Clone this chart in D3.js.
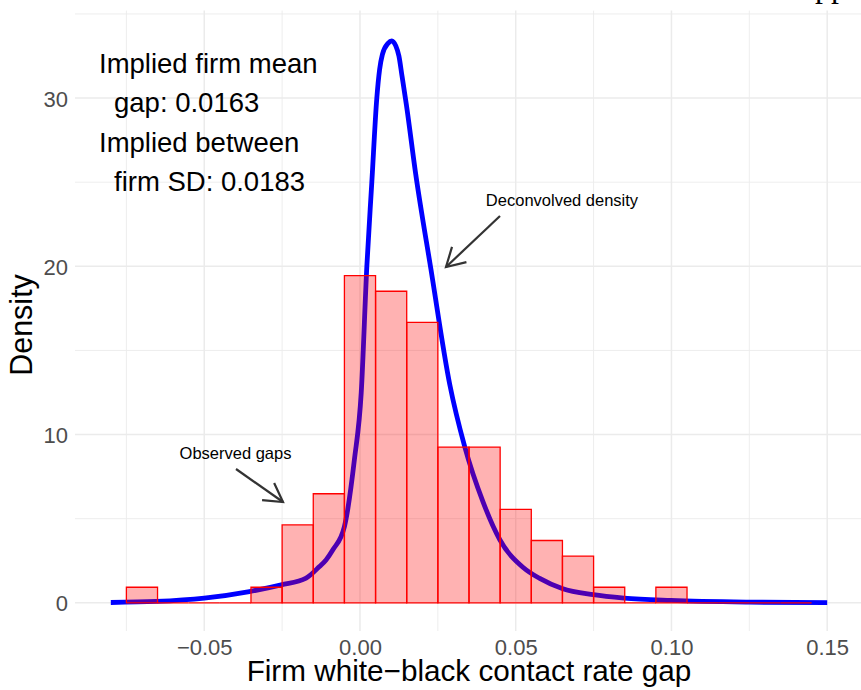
<!DOCTYPE html>
<html><head><meta charset="utf-8">
<script src="https://cdn.jsdelivr.net/npm/d3@7"></script>
<style>body{margin:0;background:#fff}svg{display:block}text{font-family:"Liberation Sans",Arial,Helvetica,sans-serif}</style>
</head><body><svg id="c" width="861" height="690"></svg>
<script>
// Histogram: bin starts (width 0.01) and firm counts
const binStarts = [-0.075,-0.065,-0.055,-0.045,-0.035,-0.025,-0.015,-0.005,0.005,0.015,0.025,0.035,0.045,0.055,0.065,0.075,0.085,0.095,0.105,0.115,0.125,0.135];
const binCounts = [1,0,0,0,1,5,7,21,20,18,10,10,6,4,3,1,0,1,0,0,0,0];
const binWidth = 0.01;
// Deconvolved density curve
const densX = [-0.08,-0.0655,-0.05,-0.0355,-0.0253,-0.0173,-0.013,-0.0109,-0.0087,-0.005,-0.0018,0.0004,0.0022,0.0038,0.0054,0.0063,0.0072,0.009,0.0102,0.0115,0.0125,0.0135,0.0149,0.0178,0.0228,0.0288,0.0336,0.0395,0.0449,0.0524,0.0577,0.0649,0.0749,0.0848,0.0998,0.125,0.15];
const densY = [0.02,0.08,0.28,0.67,1.07,1.47,2.16,2.55,3.15,4.53,8.5,12.5,20,25,30,31.7,32.6,33.25,33.4,33.1,32.5,31.3,29.6,25.6,19.8,13.0,9.3,6.0,3.75,2.1,1.45,0.85,0.48,0.28,0.14,0.04,0.01];
const xTicks = [-0.05,0,0.05,0.10,0.15];
const xMinor = [-0.075,-0.025,0.025,0.075,0.125];
const yTicks = [0,10,20,30];
const yMinor = [5,15,25,35];
const infoLines = ["Implied firm mean","gap: 0.0163","Implied between","firm SD: 0.0183"];

const svg = d3.select("#c");
const L=75,R=863,T=10.6,B=631;
const x = d3.scaleLinear().domain([-0.0915,0.1615]).range([L,R]);
const y = d3.scaleLinear().domain([-1.675,35.2]).range([B,T]);
const N = d3.sum(binCounts);

// top-right cropped text
svg.append("text").attr("x",815).attr("y",-3).style("font-family","'Liberation Serif',serif").attr("font-size",32).attr("fill","#000").text("pp");

const grid = svg.append("g");
xMinor.forEach(v=>grid.append("line").attr("x1",x(v)).attr("x2",x(v)).attr("y1",T).attr("y2",B).attr("stroke","#EBEBEB").attr("stroke-width",0.9));
yMinor.forEach(v=>grid.append("line").attr("x1",L).attr("x2",R).attr("y1",y(v)).attr("y2",y(v)).attr("stroke","#EBEBEB").attr("stroke-width",0.9));
xTicks.forEach(v=>grid.append("line").attr("x1",x(v)).attr("x2",x(v)).attr("y1",T).attr("y2",B).attr("stroke","#EBEBEB").attr("stroke-width",1.5));
yTicks.forEach(v=>grid.append("line").attr("x1",L).attr("x2",R).attr("y1",y(v)).attr("y2",y(v)).attr("stroke","#EBEBEB").attr("stroke-width",1.5));

// density curve
const pts = densX.map((d,i)=>[d,densY[i]]);
svg.append("path").attr("d",d3.line().x(d=>x(d[0])).y(d=>y(d[1])).curve(d3.curveMonotoneX)(pts))
  .attr("fill","none").attr("stroke","#0000FF").attr("stroke-width",4.8).attr("stroke-linejoin","round");

// histogram bars
svg.append("g").selectAll("path").data(binStarts.map((s,i)=>({s,c:binCounts[i]}))).join("path")
  .attr("d",d=>{const x0=x(d.s),x1=x(d.s+binWidth),y0=y(0),y1=y(d.c/(N*binWidth));return `M${x0},${y0}V${y1}H${x1}V${y0}Z`;})
  .attr("fill","rgba(255,0,0,0.3)").attr("stroke","#FF0000").attr("stroke-width",1.3);

// axes labels
const xa = svg.append("g").attr("transform",`translate(0,${B})`)
  .call(d3.axisBottom(x).tickValues(xTicks).tickSize(0).tickFormat(d=>d3.format(".2f")(d).replace("-","\u2212")));
xa.select(".domain").remove();
xa.selectAll("text").attr("y",24).attr("dy",0).attr("font-size",22).attr("fill","#4D4D4D").style("font-family","'Liberation Sans',Arial,sans-serif");
const ya = svg.append("g").attr("transform",`translate(${L},0)`)
  .call(d3.axisLeft(y).tickValues(yTicks).tickSize(0).tickFormat(d3.format("d")));
ya.select(".domain").remove();
ya.selectAll("text").attr("x",-7).attr("dy","0.36em").attr("font-size",22).attr("fill","#4D4D4D").style("font-family","'Liberation Sans',Arial,sans-serif");

svg.append("text").attr("x",(L+R)/2).attr("y",681).attr("text-anchor","middle").attr("font-size",29.7).attr("fill","#000").text("Firm white\u2212black contact rate gap");
svg.append("text").attr("transform","translate(32,325) rotate(-90)").attr("text-anchor","middle").attr("font-size",30.5).attr("fill","#000").text("Density");

// info text
const infoX=[99,114,99,114], infoY=[72.7,111.7,151.7,190.7];
infoLines.forEach((t,i)=>svg.append("text").attr("x",infoX[i]).attr("y",infoY[i]).attr("font-size",27.5).attr("fill","#000").text(t));

// annotations with arrows
function arrow(x1,y1,x2,y2){
  const g=svg.append("g").attr("stroke","#333333").attr("stroke-width",2.2).attr("fill","none").attr("stroke-linecap","butt");
  g.append("line").attr("x1",x1).attr("y1",y1).attr("x2",x2).attr("y2",y2);
  const a=Math.atan2(y1-y2,x1-x2), len=21, h=Math.PI/6;
  g.append("path").attr("d",`M${x2+len*Math.cos(a+h)},${y2+len*Math.sin(a+h)}L${x2},${y2}L${x2+len*Math.cos(a-h)},${y2+len*Math.sin(a-h)}`);
}
svg.append("text").attr("x",562).attr("y",206).attr("text-anchor","middle").attr("font-size",16.5).attr("fill","#000").text("Deconvolved density");
arrow(500,216,446,267);
svg.append("text").attr("x",235.5).attr("y",459).attr("text-anchor","middle").attr("font-size",16.5).attr("fill","#000").text("Observed gaps");
arrow(236,469,283,502);
</script></body></html>
